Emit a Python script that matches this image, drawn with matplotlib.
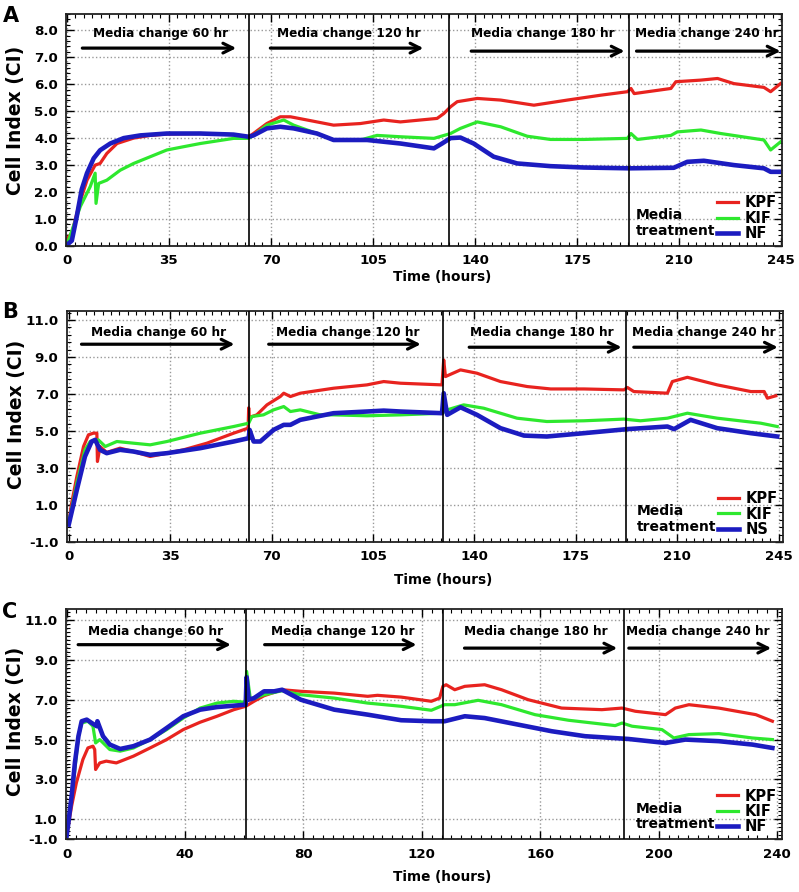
import matplotlib
matplotlib.use("Agg")
import matplotlib.pyplot as plt
from matplotlib.ticker import AutoMinorLocator

plt.rcParams['font.family'] = ['DejaVu Sans']
plt.rcParams['font.weight'] = 'bold'

RED = "#e8231f"
GREEN = "#2ee82e"
BLUE = "#1c1cc0"

# ---- panel A ----
a_kpf_t = [0, 1.7, 4, 6.9, 9.7, 11.4, 13.7, 17.2, 22.9, 28.6, 34.3, 45.8, 57.2, 62.4,
           64, 68.6, 73.2, 76.7, 85.8, 91.5, 100.7, 108.7, 114.4, 127, 129.3, 131.6, 133.9,
           140.8, 148.8, 160.2, 171.7, 183.1, 192.3, 193.5, 194.6, 207.2, 208.9, 217.5,
           223.2, 228.8, 239.1, 241.4, 244.8]
a_kpf_v = [0.28, 0.47, 1.46, 2.44, 3.0, 3.06, 3.43, 3.8, 4.0, 4.1, 4.15, 4.17, 4.13, 4.05,
           4.17, 4.54, 4.79, 4.79, 4.6, 4.48, 4.54, 4.67, 4.6, 4.73, 4.91, 5.16, 5.35,
           5.47, 5.41, 5.22, 5.41, 5.59, 5.72, 5.84, 5.65, 5.84, 6.09, 6.15,
           6.21, 6.02, 5.88, 5.72, 6.02]
a_kif_t = [0, 4.6, 8, 9.7, 10, 10.9, 13.7, 18.3, 22.9, 28.6, 34.3, 40, 45.8, 57.2, 62.4,
           64, 68.6, 74.4, 77.8, 85.8, 91.5, 100.7, 106.4, 114.4, 125.9, 131.6, 135,
           140.8, 148.8, 157.9, 165.9, 177.3, 192.3, 193.5, 195.7, 207.2, 209.4, 217.5,
           224.3, 239.1, 241.4, 244.8]
a_kif_v = [0.04, 1.46, 2.2, 2.7, 1.58, 2.32, 2.44, 2.81, 3.06, 3.31, 3.56, 3.68, 3.8, 3.99, 3.99,
           4.1, 4.48, 4.67, 4.48, 4.17, 3.93, 3.93, 4.1, 4.05, 3.99, 4.17, 4.36,
           4.6, 4.42, 4.07, 3.95, 3.95, 3.99, 4.17, 3.95, 4.1, 4.23, 4.3,
           4.17, 3.93, 3.56, 3.86]
a_nf_t = [0, 1.7, 3.4, 5.1, 6.9, 9.2, 11.4, 14.9, 19.5, 25.2, 34.3, 45.8, 57.2, 62.4,
          64, 68.6, 73.2, 77.8, 85.8, 91.5, 103, 114.4, 125.9, 128.7, 131.6, 135, 139.5,
          146.4, 154.5, 165.9, 177.3, 192.8, 208.2, 212.8, 218.5, 228.8, 239.1, 241.4, 244.8]
a_nf_v = [0.04, 0.2, 1.1, 2.1, 2.7, 3.25, 3.55, 3.8, 4.0, 4.1, 4.17, 4.17, 4.13, 4.05,
          4.1, 4.36, 4.42, 4.36, 4.17, 3.93, 3.93, 3.8, 3.62, 3.8, 4.0, 4.02, 3.8,
          3.31, 3.06, 2.96, 2.91, 2.88, 2.9, 3.12, 3.16, 3.0, 2.88, 2.75, 2.75]

# ---- panel B ----
b_kpf_t = [0, 1, 2.8, 5.1, 6.8, 8.5, 9.7, 9.9, 10.8, 13.1, 17.7, 22.3, 28.1, 33.9, 39.6,
           47.7, 56.9, 61.9, 62.1, 62.3, 63.2, 64.9, 68.4, 73, 74.2, 76.5, 79.9, 91.4, 102.9,
           108.7, 114.5, 128.8, 129.4, 130, 135.2, 140.9, 149, 158.2, 166.3, 177.8, 191.6,
           192.8, 195, 206.6, 208.3, 213.5, 223.8, 235.4, 240, 241.1, 244]
b_kpf_v = [0.03, 1.1, 2.54, 4.16, 4.79, 4.88, 4.88, 3.35, 4.16, 3.84, 4.07, 3.89, 3.62, 3.8, 3.98,
           4.34, 4.88, 5.15, 6.25, 5.6, 5.78, 5.87, 6.41, 6.86, 7.04, 6.86, 7.04, 7.31, 7.49,
           7.67, 7.58, 7.49, 8.84, 7.94, 8.3, 8.12, 7.67, 7.4, 7.27, 7.27, 7.22,
           7.35, 7.13, 7.04, 7.67, 7.9, 7.49, 7.13, 7.13, 6.77, 6.9]
b_kif_t = [0, 2.8, 5.6, 7.4, 9.1, 10.2, 12.6, 16.6, 22.3, 28.1, 33.9, 45.4, 56.9, 62.1,
           63.2, 67.2, 70.7, 74.2, 76.5, 79.9, 86.8, 91.4, 102.9, 114.5, 128.8, 130.6,
           136.3, 143.2, 154.7, 165, 177.8, 191.6, 197.3, 206.6, 213.5, 223.8, 238.8, 244.5]
b_kif_v = [0.03, 2.18, 3.98, 4.43, 4.43, 4.52, 4.16, 4.43, 4.34, 4.25, 4.43, 4.88, 5.24, 5.42,
           5.78, 5.87, 6.14, 6.32, 6.05, 6.14, 5.87, 5.87, 5.82, 5.87, 5.96, 6.14,
           6.41, 6.23, 5.69, 5.51, 5.55, 5.64, 5.55, 5.69, 5.96, 5.69, 5.42, 5.24]
b_ns_t = [0, 2.8, 5.6, 7.9, 9.1, 10.8, 13.1, 17.7, 22.3, 28.1, 33.9, 45.4, 56.9, 62.1, 62.4,
          63.8, 66.1, 70.7, 74.2, 76.5, 79.9, 91.4, 102.9, 108.7, 114.5, 128.8, 129.4,
          130.6, 135.2, 140.9, 149, 157.1, 165, 177.8, 192.8, 206.6, 208.9, 214.6, 223.8,
          235.4, 244.5]
b_ns_v = [-0.06, 1.82, 3.62, 4.43, 4.52, 3.98, 3.8, 3.98, 3.89, 3.71, 3.8, 4.07, 4.43, 4.61, 5.06,
          4.43, 4.43, 5.06, 5.33, 5.33, 5.6, 5.96, 6.05, 6.1, 6.05, 5.96, 7.04,
          5.87, 6.28, 5.87, 5.15, 4.75, 4.7, 4.88, 5.1, 5.24, 5.1, 5.6, 5.15,
          4.88, 4.7]

# ---- panel C ----
c_kpf_t = [0, 1.7, 3.3, 5.5, 7.2, 8.9, 9.5, 9.8, 11.2, 13.4, 16.8, 22.6, 28.2, 33.8, 39.4,
           45.1, 50.8, 56.5, 60.5, 63.3, 66.7, 72.8, 79.1, 90.4, 101.7, 105, 113, 123.2,
           126, 127.1, 128.2, 131.1, 134.5, 141.2, 146.9, 155.9, 167.2, 180.8, 187.6, 192.1,
           202.3, 205.6, 210.2, 220.3, 232.8, 238.4]
c_kpf_v = [0.17, 1.67, 2.83, 4.0, 4.58, 4.67, 4.5, 3.5, 3.83, 3.92, 3.83, 4.17, 4.58, 5.0, 5.5,
           5.87, 6.17, 6.5, 6.67, 6.92, 7.2, 7.5, 7.42, 7.33, 7.17, 7.22, 7.13, 6.92,
           7.08, 7.67, 7.75, 7.5, 7.67, 7.75, 7.5, 7.0, 6.58, 6.5, 6.58, 6.42,
           6.25, 6.58, 6.75, 6.58, 6.25, 5.92]
c_kif_t = [0, 2.3, 4, 5.1, 7.2, 8.9, 9.8, 11.2, 14.6, 18.1, 22.6, 28.2, 33.8, 39.4, 45.1,
           50.8, 56.5, 60.5, 60.8, 62.1, 66.7, 72.8, 79.1, 90.4, 101.7, 113, 123.2, 127.7,
           131.1, 139, 146.9, 158.2, 169.5, 185.3, 187.6, 191, 201.1, 205.1, 210.2, 220.3,
           231.6, 238.4]
c_kif_v = [0.17, 2.83, 5.17, 5.83, 5.92, 5.67, 4.83, 5.0, 4.5, 4.42, 4.58, 5.0, 5.5, 6.08, 6.58,
           6.83, 6.92, 6.87, 8.42, 7.0, 7.25, 7.45, 7.25, 7.08, 6.83, 6.67, 6.47, 6.75,
           6.75, 6.97, 6.75, 6.25, 5.97, 5.7, 5.83, 5.67, 5.5, 5.08, 5.25, 5.3,
           5.08, 5.0]
c_nf_t = [0, 0.6, 1.7, 2.8, 4, 5.1, 6.8, 8.5, 10.2, 10.4, 12.3, 14.6, 18.1, 22.6, 28.2, 33.8,
          39.4, 45.1, 50.8, 56.5, 60.5, 60.8, 61.5, 63.3, 66.7, 70.1, 72.8, 79.1, 90.4, 101.7,
          113, 123.2, 127.7, 134.5, 141.2, 152.5, 163.8, 175.1, 189.8, 202.3, 209, 220.3,
          231.6, 238.4]
c_nf_v = [0.17, 0.83, 2.17, 3.83, 5.17, 5.92, 6.0, 5.83, 5.67, 5.92, 5.17, 4.75, 4.53, 4.67, 5.0, 5.58,
          6.17, 6.5, 6.63, 6.7, 6.75, 8.13, 7.0, 7.08, 7.42, 7.42, 7.5, 7.0, 6.5, 6.25,
          5.97, 5.92, 5.92, 6.17, 6.08, 5.75, 5.42, 5.17, 5.03, 4.83, 5.0, 4.92,
          4.75, 4.58]

change_a = [62.6, 131.2, 192.7]
change_b = [62.1, 129.2, 192.2]
change_c = [60.7, 127.3, 188.3]

arrows_a = [(5.3, 58.1, 32), (69.8, 122.3, 96.7), (138.7, 191.3, 163.4), (195.4, 244.8, 219.4)]
arrows_b = [(4.4, 57.2, 31), (69, 121.5, 96.3), (138.2, 190.8, 163.3), (195, 244.7, 219)]
arrows_c = [(3.9, 55.5, 29.9), (66.9, 118.2, 93.2), (134.4, 186, 158.6), (189.9, 238, 213.2)]
arrow_labels = ["Media change 60 hr", "Media change 120 hr",
                "Media change 180 hr", "Media change 240 hr"]

fig = plt.figure(figsize=(7.99, 8.92), dpi=100)

panels = [
    dict(rect=[0.0826, 0.7242, 0.8961, 0.2601], letter="A", ly=1 - 22 / 892,
         series=[(a_kpf_t, a_kpf_v), (a_kif_t, a_kif_v), (a_nf_t, a_nf_v)],
         names=["KPF", "KIF", "NF"], xlim=(-0.3, 245.3), ylim=(0, 8.6),
         xticks=[0, 35, 70, 105, 140, 175, 210, 245],
         yticks=[0, 1, 2, 3, 4, 5, 6, 7, 8],
         ylabels=["0.0", "1.0", "2.0", "3.0", "4.0", "5.0", "6.0", "7.0", "8.0"],
         changes=change_a, arrows=arrows_a, arr_y=[0.853, 0.853, 0.84, 0.84], txt_y=0.915,
         ylab_y=0.54, xlab_y=-0.104, minors=12),
    dict(rect=[0.0835, 0.3924, 0.8965, 0.2593], letter="B", ly=1 - 318 / 892,
         series=[(b_kpf_t, b_kpf_v), (b_kif_t, b_kif_v), (b_ns_t, b_ns_v)],
         names=["KPF", "KIF", "NS"], xlim=(-0.7, 246.5), ylim=(-1, 11.5),
         xticks=[0, 35, 70, 105, 140, 175, 210, 245],
         yticks=[-1, 1, 3, 5, 7, 9, 11],
         ylabels=["-1.0", "1.0", "3.0", "5.0", "7.0", "9.0", "11.0"],
         changes=change_b, arrows=arrows_b, arr_y=[0.855, 0.855, 0.842, 0.842], txt_y=0.905,
         ylab_y=0.55, xlab_y=-0.134, minors=12),
    dict(rect=[0.0826, 0.0591, 0.8956, 0.2582], letter="C", ly=1 - 618 / 892,
         series=[(c_kpf_t, c_kpf_v), (c_kif_t, c_kif_v), (c_nf_t, c_nf_v)],
         names=["KPF", "KIF", "NF"], xlim=(-0.2, 241.5), ylim=(0, 11.55),
         xticks=[0, 40, 80, 120, 160, 200, 240],
         yticks=[0, 1, 3, 5, 7, 9, 11],
         ylabels=["-1.0", "1.0", "3.0", "5.0", "7.0", "9.0", "11.0"],
         changes=change_c, arrows=arrows_c, arr_y=[0.845, 0.845, 0.83, 0.83], txt_y=0.9,
         ylab_y=0.51, xlab_y=-0.134, minors=12),
]

colors = [RED, GREEN, BLUE]
widths = [2.3, 2.3, 3.3]

for p in panels:
    ax = fig.add_axes(p["rect"])
    for (t, v), c, w, n in zip(p["series"], colors, widths, p["names"]):
        ax.plot(t, v, color=c, lw=w, label=n, solid_joinstyle="round")
    for x in p["changes"]:
        ax.axvline(x, color="black", lw=1.2, zorder=5)
    for (x0, x1, xt), ay, lab in zip(p["arrows"], p["arr_y"], arrow_labels):
        ax.annotate("", xy=(x1, ay), xytext=(x0, ay),
                    xycoords=("data", "axes fraction"),
                    arrowprops=dict(arrowstyle="->,head_length=0.7,head_width=0.35",
                                    lw=2.3, color="black", shrinkA=0, shrinkB=0))
        ax.text(xt, p["txt_y"], lab, transform=ax.get_xaxis_transform(),
                ha="center", va="center", fontsize=8.7, fontweight="bold")

    ax.set_xlim(*p["xlim"])
    ax.set_ylim(*p["ylim"])
    ax.set_xticks(p["xticks"])
    ax.set_xticklabels([str(x) for x in p["xticks"]])
    ax.set_yticks(p["yticks"])
    ax.set_yticklabels(p["ylabels"])
    ax.xaxis.set_minor_locator(AutoMinorLocator(p["minors"]))
    ax.yaxis.set_minor_locator(AutoMinorLocator(5))
    ax.tick_params(which="both", direction="in", top=True, right=True, labelsize=9.6)
    ax.tick_params(which="major", length=6, width=1, pad=6)
    ax.tick_params(which="minor", length=3, width=0.8)
    ax.grid(True, which="major", linestyle=":", color="#999999", lw=1)
    for s in ax.spines.values():
        s.set_linewidth(1.3)
        s.set_color("#222222")

    ax.set_ylabel("Cell Index (CI)", fontsize=13.5, fontweight="bold")
    ax.yaxis.set_label_coords(-0.057, p["ylab_y"])
    ax.set_xlabel("Time (hours)", fontsize=9.8, fontweight="bold")
    ax.xaxis.set_label_coords(0.526, p["xlab_y"])

    ax.legend(loc="lower right", frameon=False, fontsize=10.5, handlelength=1.45,
              handletextpad=0.45, labelspacing=0.02, borderpad=0, borderaxespad=0.35)
    ax.text(0.796, 0.035, "Media\ntreatment", transform=ax.transAxes,
            ha="left", va="bottom", fontsize=10, fontweight="bold", linespacing=1.15)

    fig.text(0.003, p["ly"], p["letter"], fontsize=15, fontweight="bold")

fig.savefig("out.png", dpi=100)
